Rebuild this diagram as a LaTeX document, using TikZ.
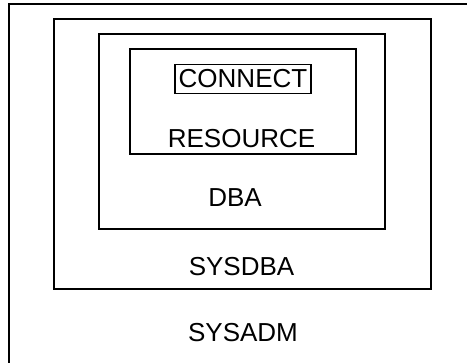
\documentclass[tikz,border=0pt]{standalone}
\usepackage{fontspec}
\setmainfont{Liberation Sans}
\begin{document}
\begin{tikzpicture}[x=0.75pt,y=-0.75pt,
        lbl/.style={font=\fontsize{19.5}{23}\selectfont,inner sep=0pt}]
        \clip (0,0) rectangle (467,363);
        \foreach \xa/\ya/\xb/\yb in {9/4/480/380, 54/19/431/289, 99/34/385/229, 130/49/356/154} {
          \draw[line width=1.5pt] (\xa,\ya) rectangle (\xb,\yb);
        }
        \foreach \n/\x/\y in {SYSADM/243/333, SYSDBA/241.5/266.5, DBA/235/198, RESOURCE/241.5/139} {
          \node[lbl] (\n) at (\x,\y) {\n};
        }
        \node[lbl,draw,line width=1.2pt,minimum width=102pt,minimum height=22pt] (CONNECT) at (243,79) {CONNECT};
\end{tikzpicture}
\end{document}
